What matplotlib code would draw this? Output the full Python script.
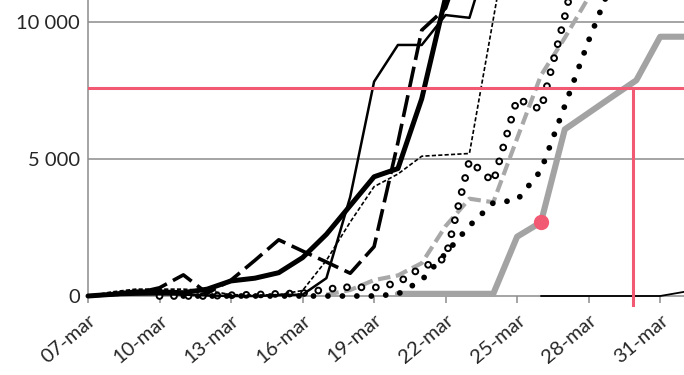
import numpy as np
import matplotlib.pyplot as plt

plt.rcParams['font.family'] = ['Lato', 'DejaVu Sans']
plt.rcParams['lines.scale_dashes'] = False

nan = np.nan

# days from 07-mar (day 0) to 01-apr (day 25)
days = np.arange(26)
tick_days = [0, 3, 6, 9, 12, 15, 18, 21, 24]
tick_labels = ['07-mar', '10-mar', '13-mar', '16-mar', '19-mar',
               '22-mar', '25-mar', '28-mar', '31-mar']

thick_black = [0, 60, 150, 150, 120, 250, 550, 650, 850, 1400, 2250, 3300, 4350,
               4650, 7200, 10900, 14000, nan, nan, nan, nan, nan, nan, nan, nan, nan]
thin_black = [0, 30, 50, 60, 50, 20, 0, 0, 30, 50, 650, 3620, 7820,
              9160, 9160, 10250, 10150, 13000, nan, nan, nan, nan, nan, nan, nan, nan]
long_dash = [0, 50, 100, 300, 770, 100, 580, 1300, 2050, 1640, 1240, 830, 1800,
             5600, 9700, 10500, 13000, nan, nan, nan, nan, nan, nan, nan, nan, nan]
short_dash = [0, 150, 250, 250, 250, 200, 50, 30, 50, 200, 1300, 2700, 3990,
              4450, 5100, 5150, 5200, 10100, 15000, nan, nan, nan, nan, nan, nan, nan]
rings = [nan, nan, nan, 0, 0, 0, 30, 50, 80, 100, 250, 330, 300,
         480, 1050, 1380, 4950, 4150, 7200, 6800, 10200, 14000, nan, nan, nan, nan]
gray_dash = [nan, nan, nan, nan, nan, nan, nan, nan, nan, nan, 50, 220, 580,
             750, 1200, 2550, 3550, 3420, 5750, 8050, 9420, 10900, 13000, nan, nan, nan]
dots = [nan, nan, nan, nan, 0, 0, 0, 0, 0, 0, 0, 0, 0,
        70, 580, 1550, 2560, 3400, 3500, 4580, 6940, 9320, 11500, 14000, nan, nan]
gray_thick = [nan, nan, nan, nan, nan, nan, nan, nan, nan, nan, nan, nan, nan,
              80, 80, 80, 80, 80, 2165, 2690, 6080, 6680, 7280, 7870, 9460, 9460]
late_black = [nan, nan, nan, nan, nan, nan, nan, nan, nan, nan, nan, nan, nan,
              nan, nan, nan, nan, nan, nan, 0, 0, 0, 0, 0, 0, 150]

red_level = 7600
red_day = 22.86
red_point = (19, 2690)

red = '#f25a73'
grid_c = '#8c8c8c'

fig = plt.figure(figsize=(6.84, 3.75), dpi=100)
ax = fig.add_axes([88 / 684, 79 / 375, 596 / 684, 296 / 375])
ax.set_xlim(0, 25)
ax.set_ylim(0, 10800)

for v in [5000, 10000]:
    ax.axhline(v, color=grid_c, lw=1.1, zorder=1)

kw = dict(clip_on=False, solid_capstyle='round', solid_joinstyle='round')
dot_ls = (0, (0.01, 10.4))
ax.plot(days, gray_thick, color='#a3a3a3', lw=4.4, zorder=3, **kw)
ax.plot(days, late_black, color='black', lw=1.3, zorder=3, **kw)
ax.plot(days, gray_dash, color='#a8a8a8', lw=3.0, ls=(0, (9, 4)), zorder=3, clip_on=False)
ax.plot(days, dots, color='black', lw=4.2, ls=dot_ls,
        dash_capstyle='round', zorder=4, clip_on=False)
ax.plot(days, rings, color='black', lw=5.6, ls=dot_ls,
        dash_capstyle='round', zorder=4, clip_on=False)
ax.plot(days, rings, color='white', lw=2.8, ls=dot_ls,
        dash_capstyle='round', zorder=4, clip_on=False)
ax.plot(days, short_dash, color='black', lw=1.2, ls=(0, (3, 1.6)), zorder=5, clip_on=False)
ax.plot(days, long_dash, color='black', lw=2.6, ls=(0, (16, 5)), zorder=5, clip_on=False)
ax.plot(days, thin_black, color='black', lw=1.8, zorder=5, **kw)
ax.plot(days, thick_black, color='black', lw=3.6, zorder=6, **kw)

ax.axhline(red_level, color=red, lw=2.2, zorder=7)
ax.plot([red_day, red_day], [red_level, -330], color=red, lw=2.2, zorder=7, clip_on=False)
ax.plot([red_point[0]], [red_point[1]], 'o', color=red, ms=10, zorder=8, clip_on=False)

for s in ['top', 'right']:
    ax.spines[s].set_visible(False)
for s in ['left', 'bottom']:
    ax.spines[s].set_color(grid_c)
    ax.spines[s].set_linewidth(1.1)

ax.set_yticks([0, 5000, 10000])
ax.set_yticklabels(['0', '5 000', '10 000'])
ax.tick_params(axis='y', length=0, pad=6, labelsize=14.5, labelcolor='#262626')

ax.set_xticks(tick_days)
ax.set_xticklabels(tick_labels, rotation=40, ha='right', rotation_mode='anchor')
ax.tick_params(axis='x', length=5, width=1.1, color=grid_c, direction='out',
               pad=6, labelsize=14.5, labelcolor='#262626')

fig.savefig('out.png', dpi=100)
